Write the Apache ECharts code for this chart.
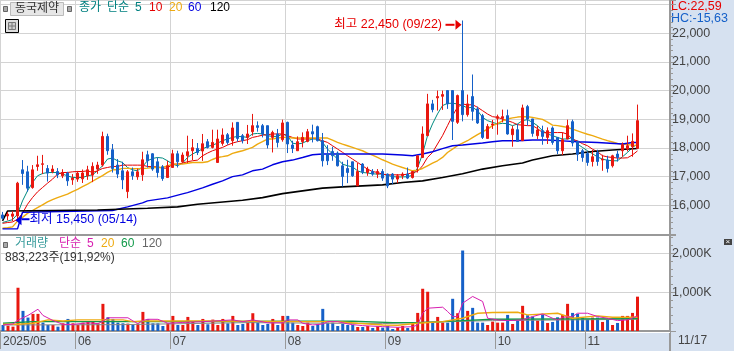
<!DOCTYPE html>
<html>
<head>
<meta charset="utf-8">
<style>
  html, body { margin: 0; padding: 0; background: #fff; }
  #chart { width: 734px; height: 351px; }
</style>
<script src="https://cdn.jsdelivr.net/npm/echarts@6/dist/echarts.min.js"></script>
</head>
<body>
<div id="chart"></div>
<script>
var dates = [
  "05/12","05/13","05/14","05/15","05/16","05/19","05/20","05/21","05/22","05/23","05/26","05/27","05/28","05/29","05/30",
  "06/02","06/04","06/05","06/09","06/10","06/11","06/12","06/13","06/16","06/17","06/18","06/19","06/20","06/23","06/24","06/25","06/26","06/27","06/30",
  "07/01","07/02","07/03","07/04","07/07","07/08","07/09","07/10","07/11","07/14","07/15","07/16","07/17","07/18","07/21","07/22","07/23","07/24","07/25","07/28","07/29","07/30","07/31",
  "08/01","08/04","08/05","08/06","08/07","08/08","08/11","08/12","08/13","08/14","08/18","08/19","08/20","08/21","08/22","08/25","08/26","08/27","08/28","08/29",
  "09/01","09/02","09/03","09/04","09/05","09/08","09/09","09/10","09/11","09/12","09/15","09/16","09/17","09/18","09/19","09/22","09/23","09/24","09/25","09/26","09/29","09/30",
  "10/01","10/02","10/10","10/13","10/14","10/15","10/16","10/17","10/20","10/21","10/22","10/23","10/24","10/27","10/28","10/29","10/30","10/31",
  "11/03","11/04","11/05","11/06","11/07","11/10","11/11","11/12","11/13","11/14","11/17"
];
// 오른쪽 빈 칸
var blankDays = ["11/18","11/19","11/20","11/21","11/24","11/25"];
var monthTicks = [0, 15, 34, 57, 77, 99, 117];
var monthLabels = ["2025/05", "06", "07", "08", "09", "10", "11"];

var opens = [
  15665,15630,15620,15630,17240,17170,16620,17355,17430,17285,17180,17180,17030,17125,16890,16915,16925,17030,17055,17265,
  17405,18405,17940,17405,17205,16480,17170,16995,17065,17765,17800,17520,17345,16970,17320,17800,17520,17730,17905,17985,
  17895,18220,18020,17495,18160,18465,18255,18895,18430,18370,18570,18780,18780,18780,18370,18490,18290,18895,18105,17905,
  18220,18230,18570,18745,18255,17790,17880,17825,17380,17285,17520,16680,17440,17145,17180,17090,17180,17090,17090,16915,
  17030,17090,16970,17345,17670,18430,19540,19750,19805,20005,20005,18895,20005,19165,19795,19365,19130,18335,18805,19035,
  19035,19130,18465,18640,18255,19445,19015,18430,18605,18370,18700,18370,17905,18315,18920,18240,17905,17810,17530,17845,
  17580,17580,17380,17790,17905,17965,18045,17985
];
var closes = [
  15550,15690,15700,16775,17110,16600,17240,17415,17450,17125,17265,17065,17145,16855,16950,17125,17130,17240,17360,17405,
  18405,17905,17285,17090,16890,17170,17030,17170,17590,17555,17265,17145,16935,17380,17800,17520,17755,17870,18010,17845,
  18150,18020,18195,18315,18455,18195,18700,18335,18255,18490,18780,18720,18490,18105,18545,18195,18875,18140,17985,18220,
  18370,18570,18490,18255,17555,17555,17730,17380,17005,17145,17030,17180,17170,17265,17090,17180,16950,16680,16915,17030,
  17090,16950,17180,17730,18490,19540,19340,19795,19865,19540,18930,19830,19165,19540,19280,18875,18370,18755,18840,19095,
  19095,18490,18665,18230,19400,19015,18510,18630,18405,18605,18195,17905,18290,18780,18175,17780,17670,17495,17695,17530,
  17615,17285,17730,17670,18115,18080,18230,18955
];
var lows = [
  15500,15480,15450,15500,16715,16480,16580,17205,17090,16830,17120,16950,16950,16680,16715,16820,16780,16890,16810,17100,
  17350,17765,17145,16950,16565,16250,16890,16890,16855,17320,17205,16970,16855,16970,17320,17320,17475,17475,17580,17755,
  17550,17985,17985,17495,18080,18115,18080,18220,18160,18140,18430,18570,18370,17985,17845,18020,18220,17825,17825,17905,
  18020,18200,18195,18230,17355,17405,17555,17355,16655,16775,16995,16680,17090,17030,17030,16950,16855,16600,16740,16775,
  16915,16915,16935,17145,17650,18430,19245,19305,19330,19365,18280,18840,18930,19095,18955,18840,18315,18315,18665,18465,
  18895,18465,18045,18230,18255,18780,18395,18315,18115,18140,18115,17790,17755,18315,18055,17550,17520,17380,17355,17380,
  17205,17145,17320,17530,17695,17880,17695,17985
];
var highs = [
  15770,15770,15800,16820,17580,17380,17405,17730,17760,17405,17400,17300,17260,17170,17090,17200,17250,17380,17500,17520,
  18570,18500,18140,17615,17520,17230,17320,17280,17870,17905,17820,17670,17405,17555,17940,17905,17845,18430,18315,18175,
  18490,18315,18640,18640,18685,18525,18895,18895,18490,18805,19190,18930,18840,18780,18605,18665,18990,18920,18255,18405,
  18545,18665,18815,18780,18525,18100,18045,17880,17520,17590,17520,17475,17475,17345,17265,17265,17265,17110,17125,17090,
  17150,17320,17200,17730,18755,19890,19680,20005,20005,20005,20005,19865,22450,19865,20565,19445,19190,18840,18980,19165,
  19340,19340,18780,18840,19515,19505,19015,18780,18780,18720,18755,18370,18545,18990,18990,18240,17965,17880,17930,17940,
  17765,17730,17765,17905,18195,18430,18510,19515
];
var ma5 = [
  15400,15450,15500,15690,16155,16505,16795,17030,17110,17145,17145,17145,17090,17030,16970,16970,16970,17030,17065,17205,
  17380,17615,17650,17555,17496,17320,17240,17205,17355,17555,17635,17670,17650,17555,17440,17380,17475,17670,17790,17880,
  17965,18055,18100,18170,18255,18315,18370,18405,18395,18370,18490,18510,18490,18430,18405,18405,18490,18430,18170,18140,
  18170,18255,18315,18315,18195,17965,17790,17615,17440,17380,17345,17205,17145,17130,17100,17090,17090,17050,17000,16990,
  16990,17000,17050,17300,17790,18430,18840,19190,19480,19560,19560,19540,19480,19400,19420,19305,19070,18955,18895,18840,
  18860,18850,18780,18840,18955,18990,18895,18780,18605,18490,18430,18370,18315,18315,18370,18140,18020,17905,17800,17690,
  17610,17575,17555,17555,17695,17845,18020,18140
];
var ma10 = [
  15372,15400,15420,15512,15723,16038,16271,16470,16621,16773,16913,17088,17146,17146,17170,17181,17181,17205,17150,17205,
  17286,17321,17356,17356,17403,17403,17403,17403,17400,17356,17350,17344,17298,17298,17438,17438,17473,17520,17555,17578,
  17730,17823,17905,17963,18021,18103,18173,18220,18255,18290,18370,18405,18450,18465,18490,18490,18490,18430,18370,18315,
  18315,18315,18340,18315,18255,18195,18080,17965,17850,17730,17615,17500,17380,17263,17180,17146,17088,17065,17065,17065,
  17065,17088,17146,17180,17380,17670,17846,18140,18430,18780,19130,19420,19540,19500,19515,19420,19305,19187,19094,19070,
  19012,18955,18895,18814,18800,18780,18780,18680,18540,18530,18540,18540,18540,18480,18300,18250,18150,18080,17960,17870,
  17730,17690,17670,17650,17650,17660,17760,17900
];
var ma20 = [
  15200,15220,15250,15450,15580,15720,15820,15920,16020,16120,16200,16270,16330,16390,16480,16560,16650,16740,16840,16940,
  17040,17150,17240,17240,17290,17290,17280,17280,17286,17300,17320,17320,17320,17380,17438,17438,17438,17470,17496,17496,
  17496,17520,17600,17671,17700,17730,17811,17860,17905,17960,18021,18138,18220,18313,18313,18348,18372,18372,18348,18348,
  18348,18348,18348,18348,18348,18348,18278,18200,18138,18080,18021,17960,17905,17823,17753,17671,17590,17520,17438,17380,
  17320,17263,17205,17228,17286,17380,17473,17555,17671,17845,17960,18080,18170,18254,18360,18464,18560,18662,18780,18850,
  18950,19012,19050,19080,19094,19090,19070,19036,19000,18900,18800,18780,18750,18720,18660,18600,18540,18480,18430,18370,
  18312,18260,18210,18160,18140,18120,18100,18090
];
// 장기 이평은 눈으로 읽은 점만 [인덱스, 값]
var ma60 = [[0,15180],[3,15180],[4,15760],[22,15820],[25,15945],[28,16085],[29,16155],[33,16260],[36,16400],[37,16445],[40,16610],[42,16735],[44,16855],[46,17000],[48,17065],[50,17205],[52,17265],[54,17415],[56,17520],[58,17580],[60,17670],[62,17765],[64,17790],[76,17790],[80,17755],[82,17730],[84,17790],[86,17870],[88,17980],[90,18080],[92,18105],[94,18140],[96,18175],[98,18220],[100,18255],[103,18255],[106,18280],[109,18280],[112,18250],[115,18220],[119,18195],[124,18140],[126,18195],[127,18195]];
var ma120 = [[0,15455],[1,15800],[19,15840],[29,15900],[35,15945],[39,16040],[48,16180],[52,16270],[56,16410],[60,16505],[64,16600],[68,16645],[72,16680],[76,16715],[80,16795],[84,16855],[88,16970],[92,17100],[96,17265],[100,17380],[104,17475],[106,17580],[110,17730],[114,17790],[118,17880],[122,17930],[127,17985]];

var volumes = [
  155,138,112,1112,517,345,440,440,215,155,155,112,198,310,198,155,215,233,233,198,
  698,353,310,215,198,190,155,190,491,302,198,198,129,198,388,155,155,362,233,155,
  310,172,293,155,310,198,388,155,181,215,457,215,155,181,310,155,388,388,215,155,
  129,215,129,181,569,215,215,129,181,155,155,103,103,129,78,129,86,129,52,95,
  129,78,181,465,1086,1009,215,362,215,215,828,457,2069,517,595,215,215,155,241,215,
  215,414,181,267,647,405,371,267,431,207,233,353,414,698,465,440,345,302,345,345,
  233,302,155,207,388,388,465,883
];
var volumeUp = [
  0,1,1,1,0,0,1,1,0,0,1,0,1,0,1,1,1,1,1,1,
  1,0,0,0,0,1,0,1,1,0,0,0,0,1,1,0,1,1,1,0,
  1,0,1,1,1,0,1,0,0,1,1,0,0,0,1,0,1,0,0,1,
  1,1,0,0,0,0,0,0,0,0,0,1,0,1,0,1,0,0,0,1,
  1,0,1,1,1,1,0,1,1,0,0,1,0,1,0,0,0,1,1,1,
  1,0,1,0,1,0,0,1,0,1,0,0,1,1,0,0,0,0,1,0,
  1,0,1,0,1,1,1,1
];
var volMa5 = [[0,155],[2,180],[3,280],[5,400],[7,560],[8,400],[10,270],[12,170],[14,170],[17,210],[19,190],[20,250],[21,340],[25,340],[26,260],[27,190],[28,270],[29,302],[31,300],[33,200],[36,220],[40,240],[46,285],[48,240],[50,285],[53,210],[56,210],[57,285],[59,285],[60,198],[62,155],[64,181],[65,241],[67,241],[68,215],[69,181],[70,164],[72,138],[76,112],[79,95],[82,112],[83,155],[84,457],[85,586],[88,612],[89,500],[90,370],[91,370],[92,715],[94,888],[96,759],[97,328],[99,285],[101,267],[104,285],[106,371],[108,440],[110,328],[111,285],[112,353],[114,371],[115,457],[117,457],[119,371],[121,328],[123,267],[125,285],[127,388]];
var volMa20 = [[0,172],[3,172],[6,198],[9,285],[12,258],[15,285],[24,285],[26,241],[28,258],[40,258],[60,241],[67,241],[71,198],[76,155],[79,146],[83,198],[88,241],[92,328],[95,457],[98,474],[103,483],[105,414],[111,457],[114,328],[119,388],[122,353],[127,353]];
var volMa60 = [[0,198],[6,241],[30,241],[60,250],[70,250],[78,215],[83,215],[88,241],[92,267],[98,302],[127,319]];
var volMa120 = [[0,155],[24,164],[49,215],[76,190],[84,224],[98,267],[127,302]];

var highLabel = "최고 22,450 (09/22)";
var lowLabel = "최저 15,450 (05/14)";
var priceLegend = [["종가", 79, "#008080"], ["단순", 107, "#008080"], ["5", 135, "#008080"], ["10", 149, "#e60000"], ["20", 169, "#eeaa10"], ["60", 188, "#0000e0"], ["120", 210, "#000"]];
var volumeLegend = [["거래량", 15, "#379b9b"], ["단순", 59, "#d81fb0"], ["5", 87, "#d81fb0"], ["20", 101, "#eeaa10"], ["60", 121, "#129a4a"], ["120", 142, "#666"]];

var FONT = '"Liberation Sans","Noto Sans CJK KR"';
var RED = "#e8170f", BLUE = "#1560c8", GRID = "#d3d3d3", AXIS = "#999", PANEL = "#d6e1f0";
var slots = dates.concat(blankDays);

function isMonthTick(i) {
  return monthTicks.indexOf(i) >= 0;
}
function lineSeries(name, data, color, width, axisIndex) {
  return {
    name: name, type: "line", data: data, xAxisIndex: axisIndex, yAxisIndex: axisIndex,
    showSymbol: false, symbol: "none", animation: false, silent: true,
    lineStyle: { color: color, width: width }, z: 2
  };
}
function txt(text, x, y, color, size) {
  return { type: "text", x: x, y: y, silent: true, style: { text: text, fill: color, font: (size || 12) + "px " + FONT, textVerticalAlign: "middle" } };
}

var candleData = dates.map(function(d, i) {
  return [opens[i], closes[i], lows[i], highs[i]];
});
var volumeData = volumes.map(function(v, i) {
  return { value: v, itemStyle: { color: volumeUp[i] ? RED : BLUE } };
});

var graphics = [
  { type: "rect", shape: { x: 0, y: 331, width: 670, height: 2 }, style: { fill: "#fff" }, silent: true },
  { type: "line", shape: { x1: 0, y1: 235, x2: 670, y2: 235 }, style: { stroke: AXIS, lineWidth: 2 }, silent: true, z: 10 },
  { type: "line", shape: { x1: 670, y1: 333, x2: 670, y2: 351 }, style: { stroke: AXIS, lineWidth: 2 }, silent: true },
  // 종목명 버튼
  { type: "rect", shape: { x: 10.5, y: 2.5, width: 53, height: 13 }, style: { fill: "#e6e6e6", stroke: "#bbb" }, silent: true, z: 10 },
  { type: "rect", shape: { x: 3.5, y: 6.5, width: 4, height: 5 }, style: { fill: "#aaa", stroke: "#666" }, silent: true, z: 10 },
  { type: "rect", shape: { x: 67.5, y: 6.5, width: 4, height: 5 }, style: { fill: "#aaa", stroke: "#666" }, silent: true, z: 10 },
  { type: "rect", shape: { x: 3.5, y: 242.5, width: 4, height: 5 }, style: { fill: "#aaa", stroke: "#666" }, silent: true, z: 10 },
  // 표 아이콘
  { type: "rect", shape: { x: 5.5, y: 19.5, width: 13, height: 13 }, style: { fill: "#ddd", stroke: "#000" }, silent: true, z: 10 },
  { type: "rect", shape: { x: 8.5, y: 22.5, width: 7, height: 7 }, style: { fill: "#ccc", stroke: "#777" }, silent: true, z: 10 },
  { type: "line", shape: { x1: 12, y1: 22, x2: 12, y2: 30 }, style: { stroke: "#777" }, silent: true, z: 10 },
  { type: "line", shape: { x1: 8, y1: 26, x2: 16, y2: 26 }, style: { stroke: "#777" }, silent: true, z: 10 },
  // 패널 우측 상단 버튼
  { type: "rect", shape: { x: 724, y: 239, width: 8, height: 6 }, style: { fill: "#444" }, silent: true, z: 10 }
];
graphics.push(Object.assign(txt("×", 725.5, 242, "#fff", 8), { z: 11 }));
graphics.push(Object.assign(txt("동국제약", 15, 9, "#333", 12), { z: 11 }));
graphics.push(Object.assign(txt("883,223주(191,92%)", 5, 258, "#333", 12), { z: 11 }));
priceLegend.forEach(function(item) {
  graphics.push(Object.assign(txt(item[0], item[1], 8, item[2], 12), { z: 11 }));
});
volumeLegend.forEach(function(item) {
  graphics.push(Object.assign(txt(item[0], item[1], 244, item[2], 12), { z: 11 }));
});
graphics.push(txt("LC:22,59", 671, 7, "#e60000", 12.5));
graphics.push(txt("HC:-15,63", 671, 19, "#1560c8", 12.5));
graphics.push(txt("11/17", 678, 341, "#444", 12));

var chart = echarts.init(document.getElementById("chart"), null, { renderer: "canvas" });
chart.setOption({
  animation: false,
  backgroundColor: PANEL,
  graphic: graphics,
  grid: [
    { left: 0, top: 0, width: 670, height: 234, show: true, backgroundColor: "#fff", borderWidth: 0 },
    { left: 0, top: 235, width: 670, height: 96, show: true, backgroundColor: "#fff", borderWidth: 0 }
  ],
  xAxis: [
    {
      type: "category", gridIndex: 0, data: slots, boundaryGap: true,
      axisLine: { show: false }, axisTick: { show: false }, axisLabel: { show: false },
      splitLine: { show: true, interval: isMonthTick, lineStyle: { color: GRID } }
    },
    {
      type: "category", gridIndex: 1, data: slots, boundaryGap: true, offset: 2,
      axisLine: { show: true, lineStyle: { color: AXIS, width: 2 } },
      axisTick: { show: true, interval: isMonthTick, length: 18, lineStyle: { color: AXIS } },
      axisLabel: {
        interval: isMonthTick, align: "left", margin: 3, color: "#444", fontSize: 12, fontFamily: FONT,
        formatter: function(v, i) { return monthLabels[monthTicks.indexOf(i)] || ""; }
      },
      splitLine: { show: true, interval: isMonthTick, lineStyle: { color: GRID } }
    }
  ],
  yAxis: [
    {
      type: "value", gridIndex: 0, position: "right", min: 15000, max: 23165, interval: 1000,
      axisLine: { show: true, lineStyle: { color: AXIS, width: 2 } },
      axisTick: { show: true, length: 6, lineStyle: { color: AXIS } },
      minorTick: { show: true, splitNumber: 5, length: 3, lineStyle: { color: AXIS } },
      splitLine: { show: true, lineStyle: { color: GRID } },
      axisLabel: {
        showMinLabel: false, showMaxLabel: false, margin: 2, color: "#444", fontSize: 12.5, fontFamily: FONT,
        formatter: function(v) { return v > 22000 ? "" : echarts.format.addCommas(v); }
      }
    },
    {
      type: "value", gridIndex: 1, position: "right", min: 0, max: 2468, interval: 1000,
      axisLine: { show: true, lineStyle: { color: AXIS, width: 2 } },
      axisTick: { show: true, length: 6, lineStyle: { color: AXIS } },
      minorTick: { show: true, splitNumber: 5, length: 3, lineStyle: { color: AXIS } },
      splitLine: { show: true, lineStyle: { color: GRID } },
      axisLabel: {
        showMinLabel: false, showMaxLabel: false, margin: 2, color: "#444", fontSize: 12.5, fontFamily: FONT,
        formatter: function(v) { return echarts.format.addCommas(v) + "K"; }
      }
    }
  ],
  series: [
    lineSeries("MA5", ma5, "#008b80", 1, 0),
    lineSeries("MA10", ma10, "#e60000", 1, 0),
    lineSeries("MA20", ma20, "#eeaa10", 1.4, 0),
    lineSeries("MA60", ma60, "#0000e0", 1.4, 0),
    lineSeries("MA120", ma120, "#000", 1.6, 0),
    {
      name: "price", type: "candlestick", data: candleData, xAxisIndex: 0, yAxisIndex: 0,
      barWidth: 3, z: 3, silent: true,
      itemStyle: { color: RED, color0: BLUE, borderColor: RED, borderColor0: BLUE, borderWidth: 1 },
      markPoint: {
        silent: true,
        data: [
          {
            coord: [92, 22300], symbol: "triangle", symbolRotate: -90, symbolSize: [10, 6], symbolOffset: [-4, 0],
            itemStyle: { color: "#e60000" },
            label: {
              show: true, position: "left", distance: 1, fontSize: 12.5, fontFamily: FONT, color: "#e60000",
              formatter: highLabel + " {arrow|}",
              rich: { arrow: { width: 9, height: 2, backgroundColor: "#e60000" } }
            }
          },
          {
            coord: [3, 15480], symbol: "triangle", symbolRotate: 90, symbolSize: [10, 6], symbolOffset: [1, 0],
            itemStyle: { color: "#0000e0" },
            label: {
              show: true, position: "right", distance: 0, offset: [0, -1], fontSize: 12.5, fontFamily: FONT, color: "#0000e0",
              formatter: "{arrow|}" + lowLabel,
              rich: { arrow: { width: 8, height: 2, backgroundColor: "#0000e0" } }
            }
          }
        ]
      }
    },
    {
      name: "volume", type: "bar", data: volumeData, xAxisIndex: 1, yAxisIndex: 1,
      barWidth: 3, silent: true, z: 1
    },
    lineSeries("VMA120", volMa120, "#888", 1, 1),
    lineSeries("VMA60", volMa60, "#129a4a", 1.4, 1),
    lineSeries("VMA20", volMa20, "#eeaa10", 1.4, 1),
    lineSeries("VMA5", volMa5, "#d81fb0", 1, 1)
  ]
});
</script>
</body>
</html>
